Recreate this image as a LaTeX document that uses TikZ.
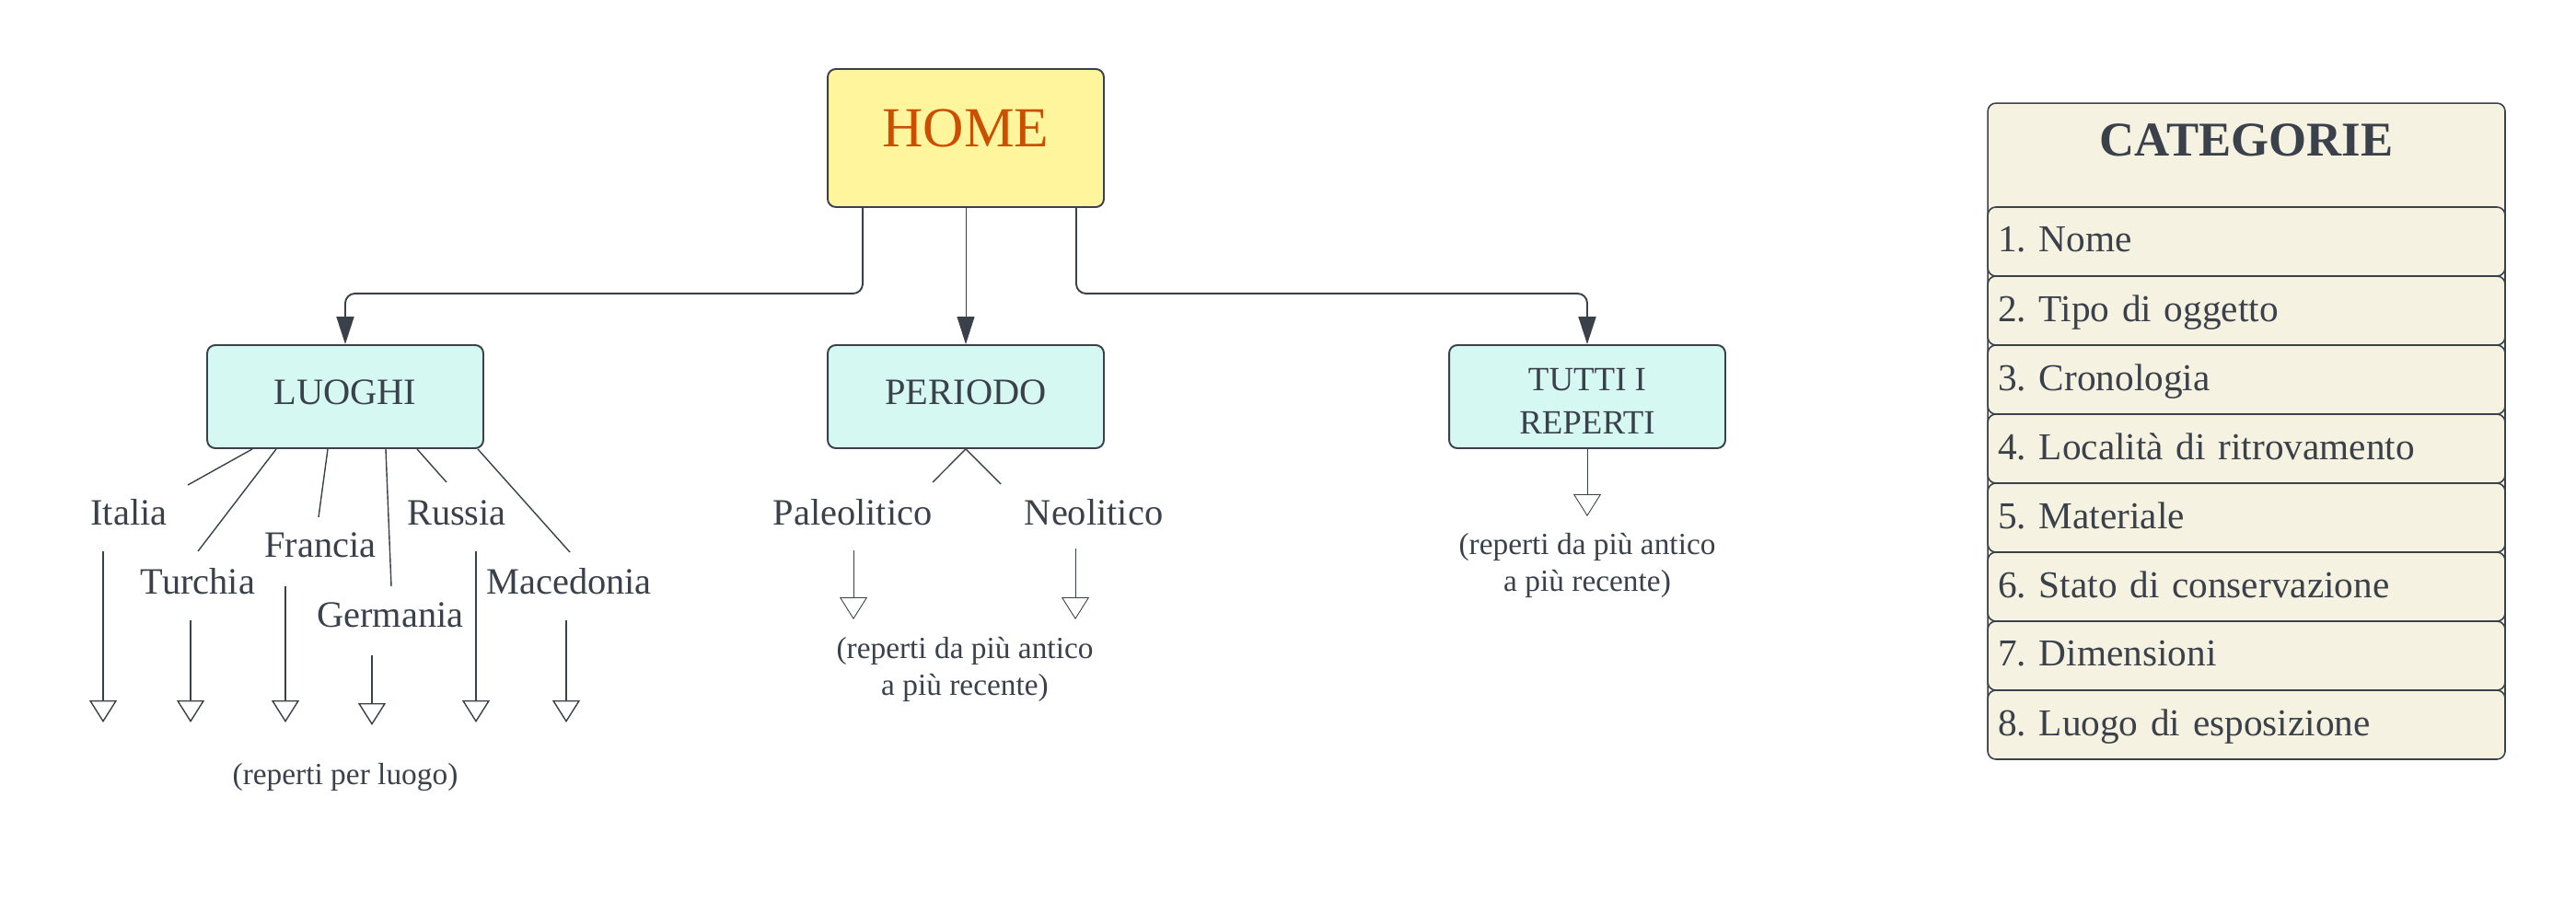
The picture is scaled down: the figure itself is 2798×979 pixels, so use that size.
\documentclass[tikz,border=0pt]{standalone}
\usepackage{fontspec}
\setmainfont{Liberation Serif}
\usetikzlibrary{arrows.meta}
\definecolor{inkgray}{HTML}{3A414A}
\definecolor{homeyellow}{HTML}{FFF59D}
\definecolor{homeorange}{HTML}{CC4E00}
\definecolor{boxcyan}{HTML}{D6F8F2}
\definecolor{catbeige}{HTML}{F5F2E1}
\newcommand{\fsize}[2]{\fontsize{#1}{#2}\selectfont}
\frenchspacing

\tikzset{
  mainbox/.style={draw=inkgray, line width=1.1pt, rounded corners=5pt, minimum width=6cm, minimum height=2.24cm, align=center, text=inkgray},
  subbox/.style={mainbox, fill=boxcyan, text depth=6pt, font=\fsize{23}{27}},
  placelabel/.style={text=inkgray, inner sep=0pt, font=\fsize{23}{27}},
  notelabel/.style={text=inkgray, inner sep=0pt, align=center, font=\fsize{19}{22.8}},
  link/.style={draw=inkgray, line width=1.1pt, rounded corners=6pt, -{Triangle[width=0.38cm,length=0.6cm]}},
  fanline/.style={draw=inkgray, line width=0.8pt},
  openarrow/.style={draw=inkgray, line width=0.8pt, -{Triangle[open,width=0.6cm,length=0.48cm,fill=white]}},
  catrow/.style={draw=inkgray, line width=0.9pt, fill=catbeige, rounded corners=5pt, minimum width=11.24cm, minimum height=1.5cm, text width=10.8cm, text depth=3pt, align=left, text=inkgray, font=\fsize{23.5}{28}}
}

\begin{document}
\begin{tikzpicture}[x=0.02cm, y=-0.02cm]
\useasboundingbox (0,0) rectangle (2798,979);

% main boxes
\node (home) at (1049,150) [mainbox, fill=homeyellow, minimum height=3cm, text depth=12pt, text=homeorange, font=\fsize{35}{40}] {HOME};
\node (luoghi) at (375,431) [subbox] {LUOGHI};
\node (periodo) at (1049,431) [subbox] {PERIODO};
\node (tutti) at (1724,431) [subbox, text depth=, font=\fsize{21}{26.5}] {\rule{0pt}{19.5pt}TUTTI I\\REPERTI};

\draw [link] ([xshift=-2.24cm]home.south) -- ++(0,93) -| (luoghi.north);
\draw [link, line width=0.5pt] (home.south) -- (periodo.north);
\draw [link] ([xshift=2.4cm]home.south) -- ++(0,93) -| (tutti.north);

% luoghi
\node (italia) at (140,557) [placelabel] {Italia};
\node (turchia) at (215,632) [placelabel] {Turchia};
\node (francia) at (348,592) [placelabel] {Francia};
\node (germania) at (424,668) [placelabel] {Germania};
\node (russia) at (496,557) [placelabel] {Russia};
\node (macedonia) at (618,632) [placelabel] {Macedonia};

\coordinate (italiafan) at (204,527);
\coordinate (turchiafan) at (215,599);
\coordinate (franciafan) at (346,562);
\coordinate (germaniafan) at (425,637);
\coordinate (russiafan) at (485,524);
\coordinate (macedoniafan) at (619,600);

\draw [fanline] ([xshift=-2.02cm]luoghi.south) -- (italiafan);
\draw [fanline] ([xshift=-1.5cm]luoghi.south) -- (turchiafan);
\draw [fanline] ([xshift=-0.38cm]luoghi.south) -- (franciafan);
\draw [fanline] ([xshift=0.88cm]luoghi.south) -- (germaniafan);
\draw [fanline] ([xshift=1.56cm]luoghi.south) -- (russiafan);
\draw [fanline] ([xshift=2.88cm]luoghi.south) -- (macedoniafan);

\coordinate (italiatop) at (112,599);
\coordinate (italiaend) at (112,785);
\coordinate (turchiatop) at (207,674);
\coordinate (turchiaend) at (207,785);
\coordinate (franciatop) at (310,637);
\coordinate (franciaend) at (310,785);
\coordinate (germaniatop) at (404,712);
\coordinate (germaniaend) at (404,788);
\coordinate (russiatop) at (517,599);
\coordinate (russiaend) at (517,785);
\coordinate (macedoniatop) at (615,674);
\coordinate (macedoniaend) at (615,785);

\draw [openarrow] (italiatop) -- (italiaend);
\draw [openarrow] (turchiatop) -- (turchiaend);
\draw [openarrow] (franciatop) -- (franciaend);
\draw [openarrow] (germaniatop) -- (germaniaend);
\draw [openarrow] (russiatop) -- (russiaend);
\draw [openarrow] (macedoniatop) -- (macedoniaend);

\node (luogonote) at (375,845) [notelabel] {(reperti per luogo)};

% periodo
\node (paleolitico) at (926,557) [placelabel] {Paleolitico};
\node (neolitico) at (1188,557) [placelabel] {Neolitico};
\coordinate (paleofan) at (1013,524);
\coordinate (neofan) at (1087,526);
\draw [fanline] (periodo.south) -- (paleofan);
\draw [fanline] (periodo.south) -- (neofan);

\coordinate (paleotop) at (927,598);
\coordinate (paleoend) at (927,673);
\coordinate (neotop) at (1168,596);
\coordinate (neoend) at (1168,673);
\draw [openarrow, line width=0.5pt] (paleotop) -- (paleoend);
\draw [openarrow, line width=0.5pt] (neotop) -- (neoend);

\node (periodonote) at (1048,727) [notelabel] {(reperti da più antico\\a più recente)};

% tutti i reperti
\coordinate (tuttiend) at (1724,561);
\draw [openarrow, line width=0.5pt] (tutti.south) -- (tuttiend);
\node (tuttinote) at (1724,614) [notelabel] {(reperti da più antico\\a più recente)};

% categorie
\node (catframe) at (2440,468) [draw=inkgray, line width=0.9pt, fill=catbeige, rounded corners=5pt, minimum width=11.24cm, minimum height=14.24cm] {};
\node (cattitle) at (2440,152) [text=inkgray, font=\fsize{30}{36}\bfseries] {CATEGORIE};
\node (cat1) at (2440,262.5) [catrow] {1. Nome};
\node (cat2) at (2440,337.5) [catrow] {2. Tipo di oggetto};
\node (cat3) at (2440,412.5) [catrow] {3. Cronologia};
\node (cat4) at (2440,487.5) [catrow] {4. Località di ritrovamento};
\node (cat5) at (2440,562.5) [catrow] {5. Materiale};
\node (cat6) at (2440,637.5) [catrow] {6. Stato di conservazione};
\node (cat7) at (2440,712.5) [catrow] {7. Dimensioni};
\node (cat8) at (2440,787.5) [catrow] {8. Luogo di esposizione};
\end{tikzpicture}
\end{document}
